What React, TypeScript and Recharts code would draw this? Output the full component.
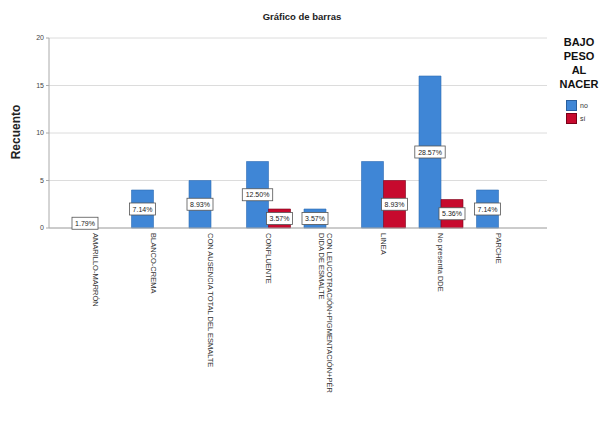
import { BarChart, Bar, XAxis, YAxis, CartesianGrid, LabelList } from 'recharts';

const categories = [
  'AMARILLO-MARRÓN',
  'BLANCO-CREMA',
  'CON AUSENCIA TOTAL DEL ESMALTE',
  'CONFLUENTE',
  'CON LEUCOTRACIÓN+PIGMENTACIÓN+PÉR\nDIDA DE ESMALTE',
  'LINEA',
  'No presenta DDE',
  'PARCHE',
];
const noValues = [1, 4, 5, 7, 2, 7, 16, 4];
const siValues = [0, 0, 0, 2, 0, 5, 3, 0];
// the reference shows no percent label on the "no" bar of LINEA
const noLabelHidden = ['LINEA'];
const yTicks = [0, 5, 10, 15, 20];

const total = [...noValues, ...siValues].reduce((a, b) => a + b, 0);
const data = categories.map((name, i) => ({
  name,
  no: noValues[i],
  si: siValues[i],
  noLbl: noLabelHidden.includes(name) ? 0 : noValues[i],
}));

const font = '"Liberation Sans", Arial, sans-serif';
const BLUE = '#3f86d6';
const RED = '#c70a2e';

const XTick = ({ x, y, payload }: any) => {
  const lines = String(payload.value).split('\n');
  const lh = 8;
  return (
    <g transform={`translate(${x},${y - 3})`}>
      <text transform="rotate(90)" fontSize={7.5} fontFamily={font} fill="#333" textAnchor="start">
        {lines.map((l, i) => (
          <tspan key={i} x={0} y={-((lines.length - 1) * lh) / 2 + i * lh + 2.6}>{l}</tspan>
        ))}
      </text>
    </g>
  );
};

const PctLabel = ({ x, y, width, height, value }: any) => {
  if (!value) return null;
  const txt = ((value / total) * 100).toFixed(2) + '%';
  const cx = x + width / 2;
  const cy = y + height / 2;
  const w = txt.length * 4.4 + 4;
  return (
    <g>
      <rect x={cx - w / 2} y={cy - 6} width={w} height={12} fill="#fff" stroke="#555" strokeWidth={0.8} />
      <text x={cx} y={cy + 2.5} textAnchor="middle" fontSize={7} fontFamily={font} fill="#222">{txt}</text>
    </g>
  );
};

export default function App() {
  return (
    <div style={{ position: 'absolute', left: 0, top: 0, width: 604, height: 427, background: '#fff' }}>
      <div style={{ position: 'absolute', left: 0, width: 604, top: 11, textAlign: 'center', fontFamily: font, fontWeight: 'bold', fontSize: 9.5, color: '#222' }}>
        Gráfico de barras
      </div>
      <div style={{ position: 'absolute', left: 16, top: 132, transform: 'translate(-50%,-50%) rotate(-90deg)', fontFamily: font, fontWeight: 'bold', fontSize: 12, color: '#222', whiteSpace: 'nowrap' }}>
        Recuento
      </div>
      <div style={{ position: 'absolute', left: 555, top: 35, width: 48, fontFamily: font, textAlign: 'center' }}>
        <div style={{ fontWeight: 'bold', fontSize: 11, lineHeight: '14px', color: '#111' }}>
          BAJO<br />PESO<br />AL<br />NACER
        </div>
        <div style={{ marginTop: 8, display: 'flex', flexDirection: 'column', alignItems: 'flex-start', paddingLeft: 11 }}>
          <div style={{ display: 'flex', alignItems: 'center', fontSize: 7, height: 13, color: '#333' }}>
            <span style={{ width: 9, height: 9, background: BLUE, marginRight: 3, border: '0.5px solid #2a5f9e' }} />no
          </div>
          <div style={{ display: 'flex', alignItems: 'center', fontSize: 7, height: 13, color: '#333' }}>
            <span style={{ width: 9, height: 9, background: RED, marginRight: 3, border: '0.5px solid #7a0018' }} />sí
          </div>
        </div>
      </div>
      <div style={{ position: 'absolute', left: 0, top: 0 }}>
        <BarChart width={604} height={427} data={data} margin={{ top: 38, right: 57, bottom: 0, left: 0 }} barGap={0} barSize={22}>
          <CartesianGrid vertical={false} stroke="#dcdcdc" />
          <XAxis dataKey="name" interval={0} height={199} tick={<XTick />} tickLine={false} axisLine={{ stroke: '#aaa' }} padding={{ left: 18, right: 20 }} />
          <YAxis width={49} domain={[0, 20]} ticks={yTicks} tick={{ fontSize: 7, fill: '#444', fontFamily: font }} tickSize={3} tickLine={{ stroke: '#aaa' }} axisLine={{ stroke: '#aaa' }} />
          <Bar dataKey="no" fill={BLUE} stroke="#2d6bb3" strokeWidth={0.6} isAnimationActive={false}>
            <LabelList dataKey="noLbl" content={<PctLabel />} />
          </Bar>
          <Bar dataKey="si" fill={RED} stroke="#7a0018" strokeWidth={0.6} isAnimationActive={false}>
            <LabelList dataKey="si" content={<PctLabel />} />
          </Bar>
        </BarChart>
      </div>
    </div>
  );
}
